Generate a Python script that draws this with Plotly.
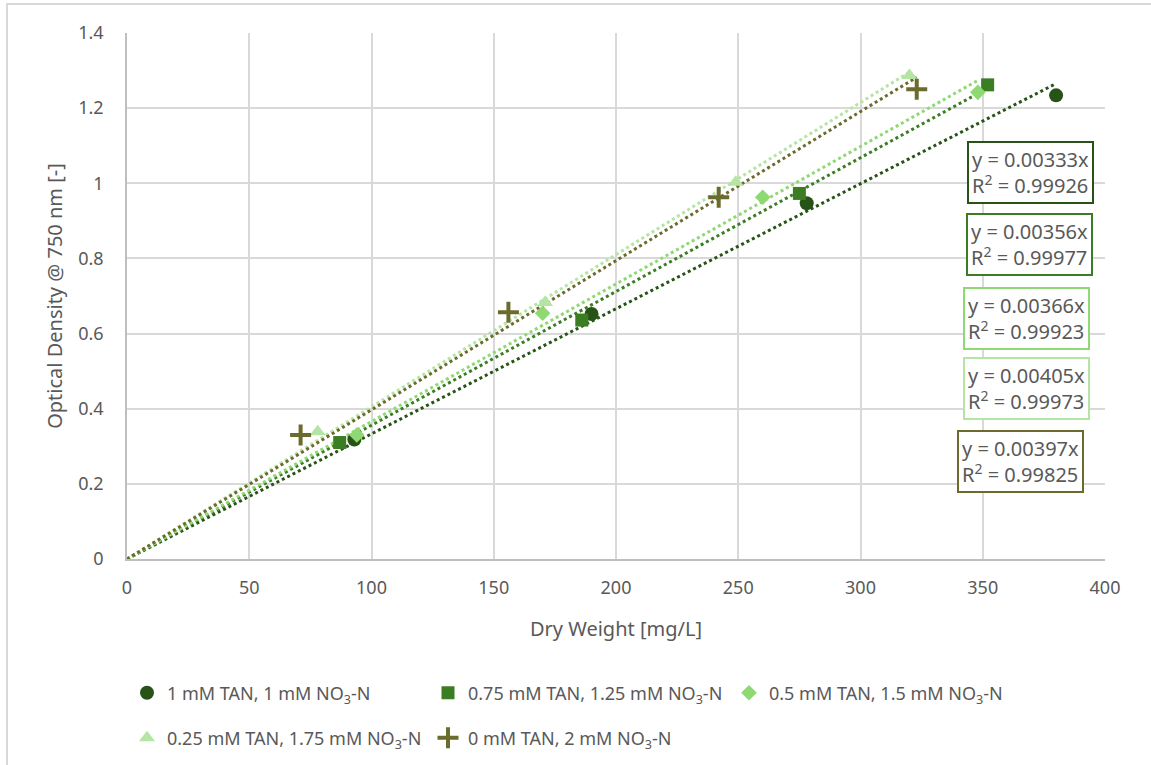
import plotly.graph_objects as go

# ---- data ----
series_names = [
    "1 mM TAN, 1 mM NO<sub>3</sub>-N",
    "0.75 mM TAN, 1.25 mM NO<sub>3</sub>-N",
    "0.5 mM TAN, 1.5 mM NO<sub>3</sub>-N",
    "0.25 mM TAN, 1.75 mM NO<sub>3</sub>-N",
    "0 mM TAN, 2 mM NO<sub>3</sub>-N",
]
dw_1 = [93, 190, 278, 380]
od_1 = [0.318, 0.652, 0.947, 1.234]
dw_2 = [87, 186, 275, 352]
od_2 = [0.310, 0.636, 0.973, 1.262]
dw_3 = [94, 170, 260, 348]
od_3 = [0.330, 0.654, 0.963, 1.242]
dw_4 = [78, 171, 249, 320]
od_4 = [0.339, 0.683, 1.003, 1.287]
dw_5 = [71, 156, 242, 323]
od_5 = [0.330, 0.657, 0.963, 1.250]
slopes = [0.00333, 0.00356, 0.00366, 0.00405, 0.00397]
r2 = ["0.99926", "0.99977", "0.99923", "0.99973", "0.99825"]

xs = [dw_1, dw_2, dw_3, dw_4, dw_5]
ys = [od_1, od_2, od_3, od_4, od_5]

colors = ["#275317", "#3B7D23", "#8ED973", "#B4E5A2", "#6B6B2E"]
symbols = ["circle", "square", "diamond", "triangle-up", "cross-thin"]
sizes = [14, 13, 12, 14, 15]
legends = ["legend", "legend", "legend", "legend2", "legend2"]
# label box positions (data coords)
box_pos = [(369.7, 1.030), (369.0, 0.838), (367.7, 0.639), (367.7, 0.455), (365.6, 0.259)]

FONT = "Noto Sans"
GRAY = "#595959"

fig = go.Figure()

# trendlines (through origin)
for i in range(5):
    xmax = max(xs[i])
    fig.add_trace(go.Scatter(
        x=[0, xmax], y=[0, slopes[i] * xmax], mode="lines",
        line=dict(color=colors[i], width=3, dash="dot"),
        showlegend=False, hoverinfo="skip"))

for i in range(5):
    mk = dict(symbol=symbols[i], size=sizes[i], color=colors[i], line=dict(width=0))
    if symbols[i] == "cross-thin":
        mk["line"] = dict(width=4, color=colors[i])
    fig.add_trace(go.Scatter(
        x=xs[i], y=ys[i], mode="markers", name=series_names[i],
        marker=mk, legend=legends[i]))

for i in range(5):
    fig.add_annotation(
        x=box_pos[i][0], y=box_pos[i][1], xref="x", yref="y",
        text=f"y = {slopes[i]:.5f}x<br>R<sup>2</sup> = {r2[i]}",
        showarrow=False, align="left",
        font=dict(family=FONT, size=20, color=GRAY),
        bordercolor=colors[i], borderwidth=2, borderpad=3, bgcolor="white")

W, H = 1151, 765
L, R, T, B = 127, 46, 33, 206
pw, ph = W - L - R, H - T - B

def px_x(p):
    return (p - L) / pw

def px_y(p):
    return (H - B - p) / ph

fig.update_layout(
    width=W, height=H,
    margin=dict(l=L, r=R, t=T, b=B, autoexpand=False),
    paper_bgcolor="white", plot_bgcolor="white",
    font=dict(family=FONT, size=16, color=GRAY),
    xaxis=dict(range=[0, 400], dtick=50, showgrid=True, gridcolor="#D9D9D9", gridwidth=1.5,
               zeroline=False, showline=True, linecolor="#BFBFBF", linewidth=1.5,
               ticks="", ticklabelstandoff=12, tickfont=dict(size=18, color=GRAY),
               title=dict(text="Dry Weight [mg/L]", font=dict(size=20, color=GRAY), standoff=24)),
    yaxis=dict(range=[0, 1.4], dtick=0.2, showgrid=True, gridcolor="#D9D9D9", gridwidth=1.5,
               zeroline=False, showline=True, linecolor="#BFBFBF", linewidth=1.5,
               ticks="", ticklabelstandoff=18, tickfont=dict(size=18, color=GRAY), tickformat="~g",
               title=dict(text="Optical Density @ 750 nm [-]", font=dict(size=20, color=GRAY), standoff=10)),
    legend=dict(orientation="h", x=px_x(127), xanchor="left", y=px_y(693), yanchor="middle",
                entrywidth=256, entrywidthmode="pixels", itemwidth=30,
                font=dict(size=18, color=GRAY), bgcolor="rgba(0,0,0,0)"),
    legend2=dict(orientation="h", x=px_x(127), xanchor="left", y=px_y(738), yanchor="middle",
                 entrywidth=256, entrywidthmode="pixels", itemwidth=30,
                 font=dict(size=18, color=GRAY), bgcolor="rgba(0,0,0,0)"),
    shapes=[dict(type="rect", xref="paper", yref="paper",
                 x0=px_x(7), y0=px_y(800), x1=px_x(1200), y1=px_y(4),
                 line=dict(color="#D9D9D9", width=2), fillcolor="rgba(0,0,0,0)", layer="below")],
)

fig.write_html("out.html")
